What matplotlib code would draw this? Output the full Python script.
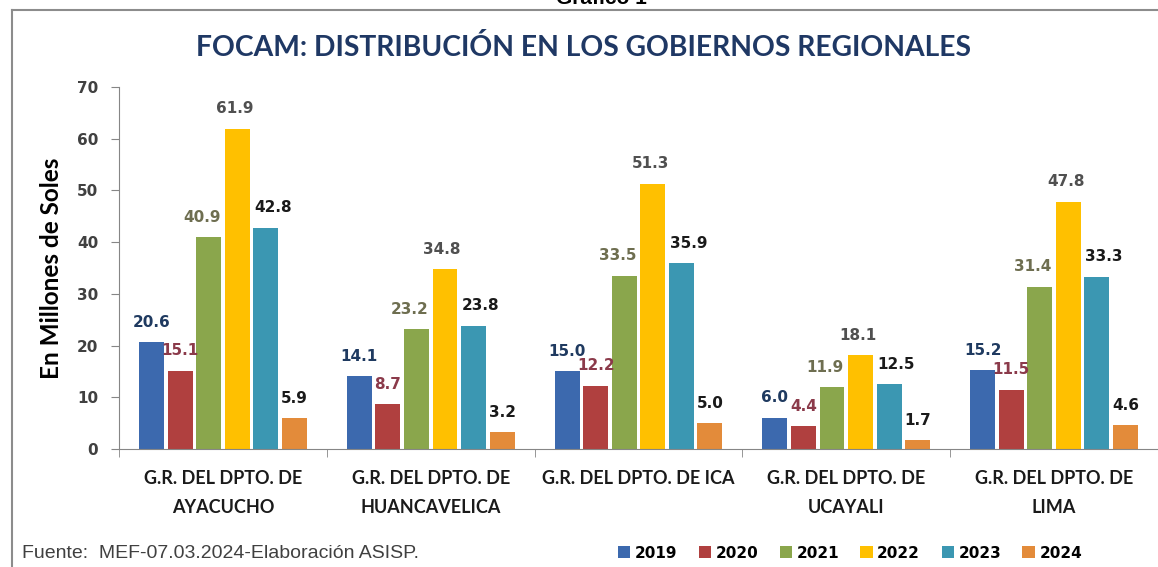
import numpy as np
import matplotlib
matplotlib.use('Agg')
import matplotlib.pyplot as plt
from matplotlib.lines import Line2D

# data
regions = ['G.R. DEL DPTO. DE\nAYACUCHO', 'G.R. DEL DPTO. DE\nHUANCAVELICA',
           'G.R. DEL DPTO. DE ICA', 'G.R. DEL DPTO. DE\nUCAYALI',
           'G.R. DEL DPTO. DE\nLIMA']
years = ['2019', '2020', '2021', '2022', '2023', '2024']
v2019 = [20.6, 14.1, 15.0, 6.0, 15.2]
v2020 = [15.1, 8.7, 12.2, 4.4, 11.5]
v2021 = [40.9, 23.2, 33.5, 11.9, 31.4]
v2022 = [61.9, 34.8, 51.3, 18.1, 47.8]
v2023 = [42.8, 23.8, 35.9, 12.5, 33.3]
v2024 = [5.9, 3.2, 5.0, 1.7, 4.6]
series = [v2019, v2020, v2021, v2022, v2023, v2024]

bar_colors = ['#3C69AE', '#B0403F', '#8AA64C', '#FFC000', '#3B97B2', '#E38B3A']
label_colors = ['#1F3A60', '#8B3A4A', '#6E6E50', '#505050', '#1A1A1A', '#1A1A1A']
label_dx = [0, 0, -5, -2, 5, 0]

fig = plt.figure(figsize=(11.58, 5.67), dpi=100)
ax = fig.add_axes([119 / 1158, 118 / 567, 1 - 119 / 1158, 362 / 567])

x = np.arange(len(regions))
step = 0.1375
width = 0.12
for i, vals in enumerate(series):
    pos = x + (i - 2.5) * step
    ax.bar(pos, vals, width, color=bar_colors[i], label=years[i], zorder=2)
    for px, v in zip(pos, vals):
        ax.annotate('%.1f' % v, xy=(px, v), xytext=(label_dx[i], 9),
                    textcoords='offset points', ha='center', va='bottom',
                    fontsize=11, fontweight='bold', color=label_colors[i])

ax.set_ylim(0, 70)
ax.set_xlim(-0.5, 4.49)
ax.set_yticks(range(0, 71, 10))
ax.set_xticks(x)
ax.set_xticklabels(regions, fontname='Lato', fontweight='bold',
                   fontsize=13, linespacing=1.9, color='#1A1A1A')
ax.set_xticks(np.arange(-0.5, 4.6, 1.0), minor=True)
ax.tick_params(axis='x', which='major', length=0, pad=15)
ax.tick_params(axis='x', which='minor', length=6, color='#868686', direction='out')
ax.tick_params(axis='y', length=6, color='#868686', pad=9, labelsize=11,
               labelcolor='#404040')
for t in ax.get_yticklabels():
    t.set_fontweight('bold')
for s in ['top', 'right']:
    ax.spines[s].set_visible(False)
for s in ['left', 'bottom']:
    ax.spines[s].set_color('#868686')
ax.set_ylabel('En Millones de Soles', fontname='Lato', fontsize=17.5,
              fontweight='bold', labelpad=10)

fig.text(583 / 1158, 1 - 48 / 567, 'FOCAM: DISTRIBUCIÓN EN LOS GOBIERNOS REGIONALES',
         ha='center', va='center', fontname='Lato', fontweight='bold',
         fontsize=20.3, color='#1F3864')
fig.text(601 / 1158, 1 - 4 / 567, 'Gráfico 1', ha='center', va='baseline',
         fontname='Liberation Sans', fontweight='bold', fontsize=15, color='black')
fig.text(22 / 1158, 1 - 553 / 567, 'Fuente:  MEF-07.03.2024-Elaboración ASISP.',
         ha='left', va='center', fontname='Liberation Sans', fontsize=14,
         color='#404040')

# frame lines of the original box
fig.add_artist(Line2D([12 / 1158, 1], [1 - 10 / 567, 1 - 10 / 567], color='#8C8C8C', lw=1.5))
fig.add_artist(Line2D([12 / 1158, 12 / 1158], [0, 1 - 10 / 567], color='#8C8C8C', lw=1.5))

leg = fig.legend(ncol=6, loc='center', bbox_to_anchor=(850 / 1158, 1 - 553 / 567),
                 frameon=False, handlelength=0.8, handleheight=0.8, handletextpad=0.3,
                 columnspacing=1.4, prop={'weight': 'bold', 'size': 11})

fig.savefig('out.png', dpi=100)
